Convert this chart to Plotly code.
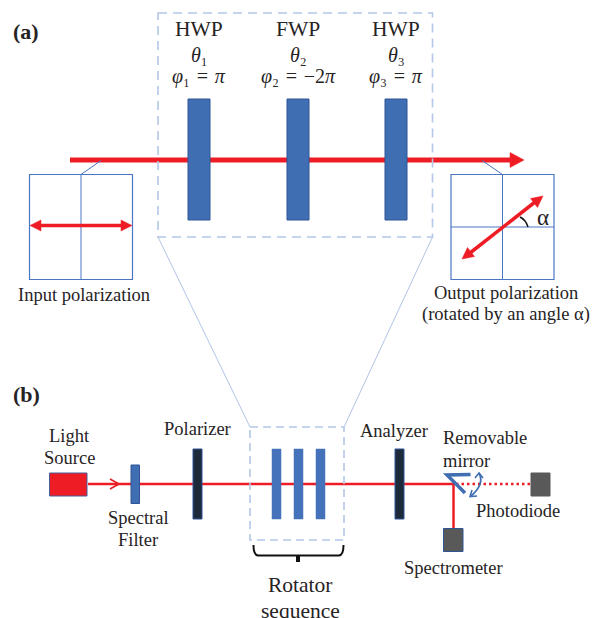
import plotly.graph_objects as go

# ---- text content ----
panel_labels = ["<b>(a)</b>", "<b>(b)</b>"]
plate_names = ["HWP", "FWP", "HWP"]
plate_angles = ["<i>θ</i>₁", "<i>θ</i>₂", "<i>θ</i>₃"]
plate_phases = ["<i>φ</i>₁\u2004=\u2004<i>π</i>", "<i>φ</i>₂\u2004=\u2004−2<i>π</i>", "<i>φ</i>₃\u2004=\u2004<i>π</i>"]

# ---- schematic geometry, in picture units ----
plate_x = [199, 298, 396]
small_plate_x = [276.5, 298.5, 320.5]
dark_plate_x = [197.5, 399.5]

RED = "#ee1c25"
BLUE = "#3f6eb3"
EDGE = "#2f5597"
THIN = "#4a76c4"
PALE = "#b4c7e7"
DARK = "#1c2a3a"
GREY = "#595959"
TEXT = "#262324"
SERIF = "Liberation Serif"

shapes = []


def rect(x0, y0, x1, y1, fill, line=EDGE, w=1):
    shapes.append(dict(type="rect", x0=x0, y0=y0, x1=x1, y1=y1, fillcolor=fill,
                       line=dict(color=line, width=w)))


def seg(x0, y0, x1, y1, color, w=1, dash="solid"):
    shapes.append(dict(type="line", x0=x0, y0=y0, x1=x1, y1=y1,
                       line=dict(color=color, width=w, dash=dash)))


def path(d, color, w=1.5, fill=None):
    s = dict(type="path", path=d, line=dict(color=color, width=w))
    if fill:
        s["fillcolor"] = fill
    shapes.append(s)


def tri(d):
    path(d, RED, 0.5, RED)


# panel (a): beam and plates
seg(70, 160, 511, 160, RED, 5)
tri("M 510 152.5 L 524 160 L 510 167.5 Z")
for x in plate_x:
    rect(x - 11, 99, x + 11, 220, BLUE)

# zoom box and guide lines
rect(158, 13, 432.5, 237, "rgba(0,0,0,0)", PALE, 1.6)
shapes[-1]["line"]["dash"] = "9px,6px"
seg(158, 237, 250, 427, "#8fabdc", 0.7)
seg(432.5, 237, 344, 427, "#8fabdc", 0.7)

# input polarization
rect(29.5, 174.5, 132.5, 279.5, "white", THIN, 1.2)
seg(81, 174.5, 81, 279.5, THIN, 1)
seg(81, 174.5, 101, 160.5, THIN, 1)
seg(40, 225.5, 122, 225.5, RED, 3.5)
tri("M 41 220 L 30 225.5 L 41 231 Z")
tri("M 121 220 L 132 225.5 L 121 231 Z")

# output polarization
rect(451, 174.5, 554, 279.5, "white", THIN, 1.2)
seg(502.5, 174.5, 502.5, 279.5, THIN, 1)
seg(451, 227, 554, 227, THIN, 1)
seg(502.5, 174.5, 482, 160.5, THIN, 1)
seg(470, 253, 535, 202, RED, 3.5)
tri("M 462 259 L 467.5 247.5 L 474.5 256.5 Z")
tri("M 543 196 L 537.5 207.5 L 530.5 198.5 Z")
path("M 520 217 Q 526 220 528 227", "#111111", 1.5)

# panel (b): optical line
seg(88, 484, 454, 484, RED, 2.5)
seg(456, 484, 531, 484, RED, 2.5, "2.5px,3px")
seg(453.5, 484, 453.5, 529, RED, 2.5)
path("M 110 479 L 119 484 L 110 489", RED, 1.6)
rect(49.5, 473, 87, 496, RED, "#44609b", 1)
rect(131, 465, 139.5, 503.5, BLUE)
for x in dark_plate_x:
    rect(x - 4.5, 449, x + 4.5, 519, DARK, EDGE, 1)
for x in small_plate_x:
    rect(x - 4.5, 449, x + 4.5, 519, "#4472bb", "#4472bb", 0.5)
rect(250, 427, 344, 540, "rgba(0,0,0,0)", PALE, 1.6)
shapes[-1]["line"]["dash"] = "8px,5px"

# mirror and detectors
path("M 470.5 474.5 L 447 475 L 465 493", BLUE, 3.5)
path("M 479 473 Q 485 484 471 496", BLUE, 1.8)
path("M 475 478 L 479 473 L 483 478", BLUE, 1.6)
path("M 477 496 L 470 496.5 L 472 490", BLUE, 1.6)
rect(443.5, 528.5, 463, 551.5, GREY, EDGE, 1)
rect(531, 473, 550, 496, GREY, GREY, 1)

# brace
path("M 253.5 545 Q 253.5 555 258 555.5 L 297 555.5 L 297 562 M 299 562 L 299 555.5 L 339 555.5 Q 343.5 555 343.5 545",
     "#111111", 2)

annotations = []


def label(x, y, text, size, anchor="center", align=None):
    annotations.append(dict(x=x, y=y, xref="x", yref="y", text=text, showarrow=False,
                            xanchor=anchor, yanchor="middle", align=align or anchor,
                            font=dict(family=SERIF, size=size, color=TEXT)))


label(11, 31, panel_labels[0], 22, "left")
label(11, 394, panel_labels[1], 22, "left")
for x, name, ang, ph in zip(plate_x, plate_names, plate_angles, plate_phases):
    label(x, 29, name, 21.5)
    label(x, 55, ang, 20)
    label(x, 76, ph, 20)
label(84, 295, "Input polarization", 18.5)
label(506, 293, "Output polarization", 18.5)
label(505.5, 314, "(rotated by an angle α)", 18.5)
label(543, 217, "α", 23)
label(69, 436, "Light", 18.5)
label(69, 458, "Source", 18.5)
label(197, 429, "Polarizer", 18.5)
label(138, 518, "Spectral", 18.5)
label(138, 540, "Filter", 18.5)
label(394, 431, "Analyzer", 18.5)
label(441, 438, "Removable", 18.5, "left")
label(441, 461, "mirror", 18.5, "left")
label(518, 511, "Photodiode", 18.5)
label(453, 568, "Spectrometer", 18.5)
label(300, 585, "Rotator", 21.5)
label(300, 611, "sequence", 21.5)

fig = go.Figure()
fig.update_layout(
    width=597, height=618,
    margin=dict(l=0, r=0, t=0, b=0),
    paper_bgcolor="white", plot_bgcolor="white",
    xaxis=dict(range=[0, 597], visible=False, fixedrange=True),
    yaxis=dict(range=[618, 0], visible=False, fixedrange=True),
    shapes=shapes, annotations=annotations, showlegend=False,
)
fig.write_html("out.html", config={"displayModeBar": False},
               post_script="document.body.style.margin='0';document.body.style.overflow='hidden';")
